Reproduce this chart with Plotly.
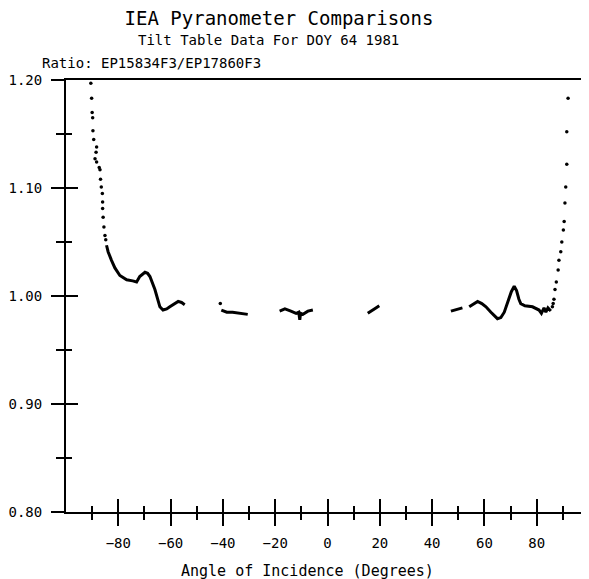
import plotly.graph_objects as go

# ---- data (angle of incidence in degrees, ratio) ----
left_dots_x = [-90.5, -90.2, -90.0, -89.8, -89.7, -89.4, -88.3, -88.5, -88.9, -88.3,
               -87.3, -87.0, -86.8, -86.5, -86.1, -86.0, -86.0, -85.8, -85.5, -85.1, -84.8]
left_dots_y = [1.197, 1.183, 1.170, 1.165, 1.153, 1.145, 1.138, 1.133, 1.127, 1.124,
               1.119, 1.117, 1.108, 1.101, 1.095, 1.087, 1.081, 1.073, 1.064, 1.056, 1.052]

seg1_x = [-84.5, -83.9, -82.6, -81.3, -79.4, -76.8, -74.5, -73.0, -71.8, -69.8, -68.8,
          -67.9, -66.0, -64.1, -62.9, -61.5, -60.3, -58.5, -57.1, -55.8, -54.6]
seg1_y = [1.047, 1.041, 1.033, 1.026, 1.019, 1.015, 1.014, 1.013, 1.018, 1.022, 1.021,
          1.018, 1.006, 0.990, 0.987, 0.988, 0.990, 0.993, 0.995, 0.994, 0.992]

dot2_x = [-41.0]
dot2_y = [0.993]
seg2_x = [-40.6, -38.5, -36.3, -33.0, -30.5]
seg2_y = [0.987, 0.985, 0.985, 0.984, 0.983]

seg3_x = [-18.3, -16.3, -14.0, -12.0, -11.0, -10.6, -10.3, -9.4, -7.5, -5.6]
seg3_y = [0.986, 0.988, 0.986, 0.984, 0.985, 0.978, 0.984, 0.983, 0.986, 0.987]

seg4_x = [15.4, 17.0, 18.5, 19.8]
seg4_y = [0.984, 0.987, 0.989, 0.991]

seg5_x = [47.2, 49.0, 51.6]
seg5_y = [0.986, 0.987, 0.989]

seg6_x = [54.2, 56.0, 57.4, 59.0, 60.6, 62.5, 64.0, 65.0, 66.3, 67.6, 69.0, 70.3, 71.4,
          72.3, 73.2, 73.9, 75.5, 78.4, 80.9, 81.8, 82.8, 83.5, 84.3, 85.4]
seg6_y = [0.990, 0.993, 0.995, 0.993, 0.990, 0.985, 0.981, 0.979, 0.980, 0.985, 0.995,
          1.004, 1.009, 1.005, 0.997, 0.993, 0.991, 0.990, 0.987, 0.984, 0.989, 0.985,
          0.989, 0.986]

right_dots_x = [86.0, 86.3, 86.6, 87.0, 87.5, 88.2, 88.5, 89.2, 89.6, 90.2, 90.5, 90.8,
                91.1, 91.5, 91.5, 92.0]
right_dots_y = [0.990, 0.993, 0.997, 1.006, 1.013, 1.024, 1.033, 1.041, 1.050, 1.061,
                1.069, 1.086, 1.101, 1.122, 1.152, 1.183]

x_ticks = [-80, -60, -40, -20, 0, 20, 40, 60, 80]
x_minor = [-90, -70, -50, -30, -10, 10, 30, 50, 70, 90]
y_ticks = [0.80, 0.90, 1.00, 1.10, 1.20]
y_tick_text = ["0.80", "0.90", "1.00", "1.10", "1.20"]
y_minor = [0.85, 0.95, 1.05, 1.15]

FONT = "DejaVu Sans Mono"
BLACK = "#000000"

# the page body adds an 8px offset, so the figure is 8px smaller on each axis
W, H = 581, 571
L, R, T, B = 58, 0, 72, 67
PW, PH = W - L - R, H - T - B


def px_x(px):  # page pixel -> paper x
    return (px - 8 - L) / PW


def px_y(py):  # page pixel -> paper y
    return (H - B - (py - 8)) / PH


fig = go.Figure()

for xs, ys in [(left_dots_x, left_dots_y), (dot2_x, dot2_y), (right_dots_x, right_dots_y)]:
    fig.add_trace(go.Scatter(x=xs, y=ys, mode="markers",
                             marker=dict(color=BLACK, size=3.5), showlegend=False,
                             hoverinfo="skip"))
for xs, ys in [(seg1_x, seg1_y), (seg2_x, seg2_y), (seg3_x, seg3_y),
               (seg4_x, seg4_y), (seg5_x, seg5_y), (seg6_x, seg6_y)]:
    fig.add_trace(go.Scatter(x=xs, y=ys, mode="lines",
                             line=dict(color=BLACK, width=3), showlegend=False,
                             hoverinfo="skip"))

# overlay axes carry the inside half of the crossing ticks
fig.add_trace(go.Scatter(x=[None], y=[None], xaxis="x2", yaxis="y2",
                         mode="markers", showlegend=False, hoverinfo="skip"))

tickfont = dict(family=FONT, size=14, color=BLACK)

fig.update_layout(
    width=W, height=H,
    margin=dict(l=L, r=R, t=T, b=B),
    paper_bgcolor="white", plot_bgcolor="white",
    font=dict(family=FONT, color=BLACK),
    title=dict(text="IEA Pyranometer Comparisons", x=(279 - 8) / W, xanchor="center",
               y=1 - (18 - 8) / H, yanchor="middle",
               font=dict(family=FONT, size=19, color=BLACK)),
    xaxis=dict(range=[-100, 100], tickvals=x_ticks, ticks="outside", ticklen=12,
               tickwidth=2, tickcolor=BLACK, showline=True, linewidth=2,
               linecolor=BLACK, mirror=True, showgrid=False, zeroline=False,
               tickfont=tickfont, ticklabelstandoff=5,
               minor=dict(tickvals=x_minor, ticks="outside", ticklen=6,
                          tickwidth=2, tickcolor=BLACK)),
    yaxis=dict(range=[0.80, 1.20], tickvals=y_ticks, ticktext=y_tick_text,
               ticks="outside", ticklen=13, tickwidth=2, tickcolor=BLACK,
               showline=True, linewidth=2, linecolor=BLACK, mirror=False,
               showgrid=False, zeroline=False, tickfont=tickfont,
               ticklabelstandoff=6,
               minor=dict(tickvals=y_minor, ticks="outside", ticklen=8,
                          tickwidth=2, tickcolor=BLACK)),
    xaxis2=dict(range=[-100, 100], overlaying="x", anchor="y", side="bottom",
                tickvals=x_ticks, ticks="inside", ticklen=13, tickwidth=2,
                tickcolor=BLACK, showticklabels=False, showline=False,
                showgrid=False, zeroline=False,
                minor=dict(tickvals=x_minor, ticks="inside", ticklen=6,
                           tickwidth=2, tickcolor=BLACK)),
    yaxis2=dict(range=[0.80, 1.20], overlaying="y", anchor="x", side="left",
                tickvals=y_ticks, ticks="inside", ticklen=12, tickwidth=2,
                tickcolor=BLACK, showticklabels=False, showline=False,
                showgrid=False, zeroline=False,
                minor=dict(tickvals=y_minor, ticks="inside", ticklen=6,
                           tickwidth=2, tickcolor=BLACK)),
    annotations=[
        dict(text="Tilt Table Data For DOY 64 1981", xref="paper", yref="paper",
             x=px_x(268), y=px_y(40), xanchor="center",
             yanchor="middle", showarrow=False,
             font=dict(family=FONT, size=14, color=BLACK)),
        dict(text="Ratio: EP15834F3/EP17860F3", xref="paper", yref="paper",
             x=px_x(40), y=px_y(63), xanchor="left",
             yanchor="middle", showarrow=False,
             font=dict(family=FONT, size=14, color=BLACK)),
        dict(text="Angle of Incidence (Degrees)", xref="paper", yref="paper",
             x=px_x(307), y=px_y(571), xanchor="center",
             yanchor="middle", showarrow=False,
             font=dict(family=FONT, size=15, color=BLACK)),
    ],
)

fig.write_html("out.html")
